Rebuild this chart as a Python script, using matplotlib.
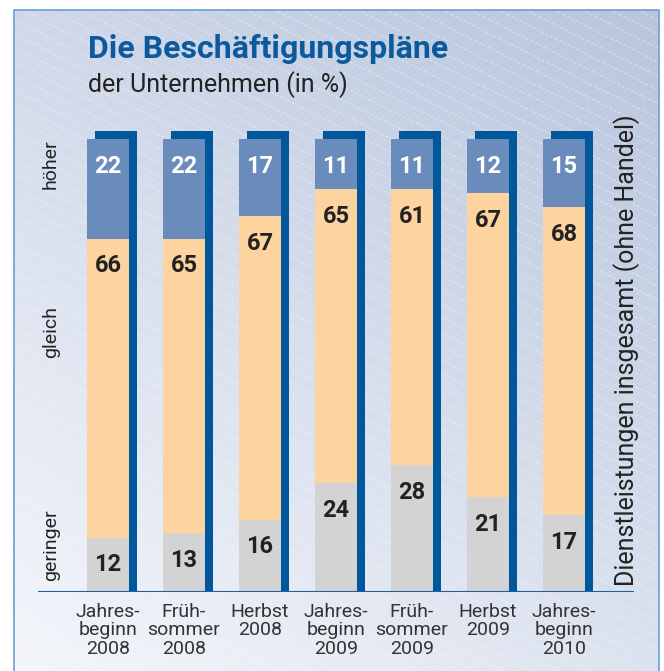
import numpy as np
import matplotlib.pyplot as plt

categories = ["Jahres-\nbeginn\n2008", "Früh-\nsommer\n2008", "Herbst\n2008",
              "Jahres-\nbeginn\n2009", "Früh-\nsommer\n2009", "Herbst\n2009",
              "Jahres-\nbeginn\n2010"]
geringer = [12, 13, 16, 24, 28, 21, 17]
gleich = [66, 65, 67, 65, 61, 67, 68]
hoeher = [22, 22, 17, 11, 11, 12, 15]

c_blue = "#6a8cbc"
c_orange = "#fdd3a0"
c_gray = "#d3d3d3"
c_shadow = "#00579b"
c_title = "#0b5a9e"
plt.rcParams["font.family"] = ["Roboto", "DejaVu Sans"]

W, H = 664, 671
fig = plt.figure(figsize=(W / 100, H / 100), dpi=100)

# background: gradient panel with faint diagonal lines
bg = fig.add_axes([0, 0, 1, 1])
bg.set_xlim(0, W)
bg.set_ylim(H, 0)
bg.axis("off")
fx0, fy0, fx1 = 14, 10, 659
xx, yy = np.meshgrid(np.linspace(0, 1, 200), np.linspace(0, 1, 200))
t = 0.6 * (1 - yy) + 0.4 * xx
c0 = np.array([0.957, 0.965, 0.984])
c1 = np.array([0.722, 0.773, 0.867])
img = c0 + (c1 - c0) * t[..., None]
bg.imshow(img, extent=(fx0, fx1, H, fy0), aspect="auto", zorder=0)
for y0 in np.arange(-400, H + 20, 14):
    bg.plot([fx0, fx1], [y0, y0 + 0.5 * (fx1 - fx0)], color="white",
            lw=0.7, alpha=0.45, ls=(0, (3, 2)), zorder=1)
bg.plot([fx0, fx0, fx1, fx1], [H + 5, fy0, fy0, H + 5], color="#6a9fd0",
        lw=1.2, zorder=2)

fig.text(88 / W, 1 - 58 / H, "Die Beschäftigungspläne", fontsize=23,
         fontweight="bold", color=c_title, va="baseline", ha="left")
fig.text(88 / W, 1 - 92 / H, "der Unternehmen (in %)", fontsize=18,
         color="#222222", va="baseline", ha="left")

# bars
ax = fig.add_axes([38 / W, (H - 592) / H, 596 / W, 453 / H])
ax.patch.set_alpha(0)
ax.axis("off")
x = np.arange(len(categories))
w = 42 / 76
ax.set_xlim(-70 / 76, 526 / 76)
ax.set_ylim(0, 100)

g = np.array(geringer)
m = np.array(gleich)
h = np.array(hoeher)
tot = g + m + h
ax.bar(x + 8 / 76, tot + 8 / 4.53, width=w, color=c_shadow, zorder=1,
       clip_on=False)
ax.bar(x, g, width=w, color=c_gray, zorder=2)
ax.bar(x, m, width=w, bottom=g, color=c_orange, zorder=2)
ax.bar(x, h, width=w, bottom=g + m, color=c_blue, zorder=2)
ax.axhline(0, color="#1d5fa0", lw=1.5, zorder=3)

for i in x:
    kw = dict(ha="center", va="center", fontsize=17, fontweight="bold",
              zorder=4)
    ax.text(i, g[i] - 6, str(g[i]), color="#222222", **kw)
    ax.text(i, g[i] + m[i] - 6, str(m[i]), color="#222222", **kw)
    ax.text(i, tot[i] - 6, str(h[i]), color="white", **kw)
    ax.text(i, -2.4, categories[i], ha="center", va="top", fontsize=14,
            color="#333333", linespacing=1.04, clip_on=False)

for lab, yp in [("höher", 164), ("gleich", 332), ("geringer", 545)]:
    fig.text(51 / W, 1 - yp / H, lab, rotation=90, fontsize=14,
             color="#222222", ha="center", va="center")
fig.text(627 / W, 1 - 350 / H, "Dienstleistungen insgesamt (ohne Handel)",
         rotation=90, fontsize=18, color="#222222", ha="center", va="center")

fig.savefig("out.png", dpi=100)
